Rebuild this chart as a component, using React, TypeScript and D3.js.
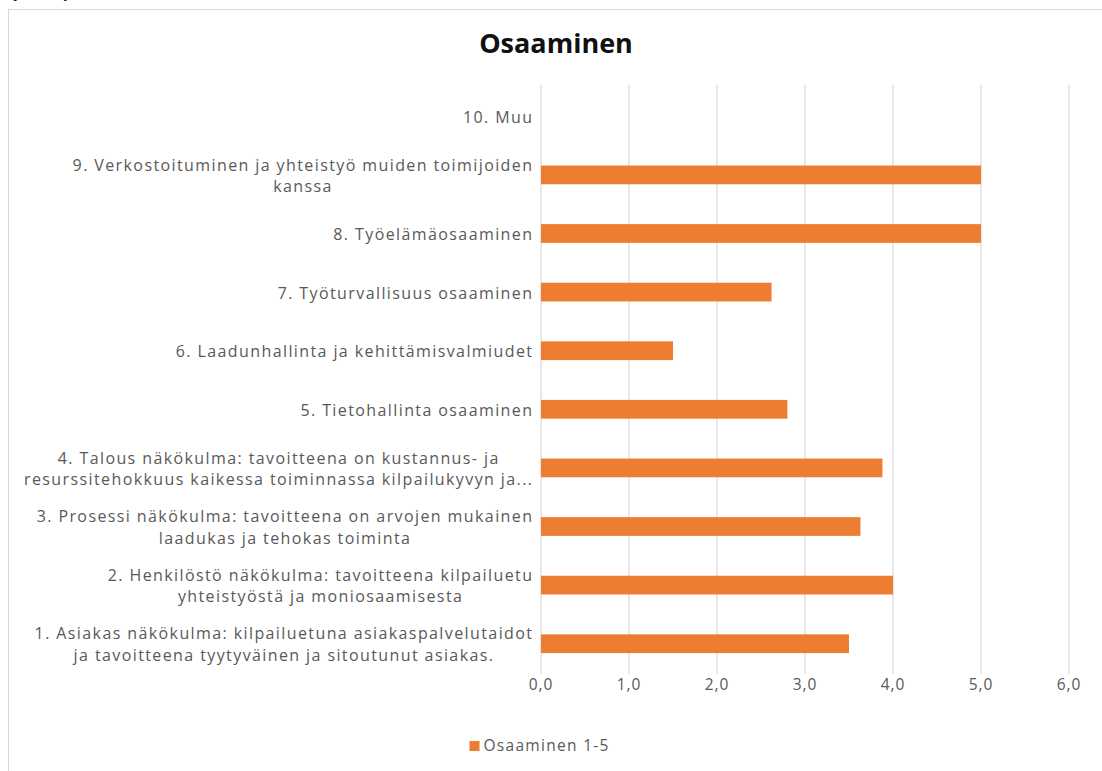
import React from "react";
import * as d3 from "d3";

const categories: string[] = [
  "1. Asiakas näkökulma: kilpailuetuna asiakaspalvelutaidot\nja tavoitteena tyytyväinen ja sitoutunut asiakas.",
  "2. Henkilöstö näkökulma: tavoitteena kilpailuetu\nyhteistyöstä ja moniosaamisesta",
  "3. Prosessi näkökulma: tavoitteena on arvojen mukainen\nlaadukas ja tehokas toiminta",
  "4. Talous näkökulma: tavoitteena on kustannus- ja\nresurssitehokkuus kaikessa toiminnassa kilpailukyvyn ja...",
  "5. Tietohallinta osaaminen",
  "6. Laadunhallinta ja kehittämisvalmiudet",
  "7. Työturvallisuus osaaminen",
  "8. Työelämäosaaminen",
  "9. Verkostoituminen ja yhteistyö muiden toimijoiden\nkanssa",
  "10. Muu",
];
const values: number[] = [3.5, 4.0, 3.63, 3.88, 2.8, 1.5, 2.62, 5.0, 5.0, 0];
const xTicks: number[] = [0, 1, 2, 3, 4, 5, 6];
const seriesName = "Osaaminen 1-5";
const title = "Osaaminen";

const W = 1102;
const H = 771;
const FONT = '"Open Sans", sans-serif';
const LABEL_SIZE = 16;
const LS = 1.4;
const TEXT = "#595959";

let ctx: CanvasRenderingContext2D | null = null;
function measure(t: string, size: number, ls: number): number {
  if (!ctx) {
    const c = document.createElement("canvas");
    ctx = c.getContext("2d");
  }
  if (!ctx) return t.length * (size * 0.55 + ls);
  ctx.font = `${size}px "Open Sans"`;
  return ctx.measureText(t).width + ls * (t.length - 1);
}

export default function App() {
  const x = d3.scaleLinear().domain([0, 6]).range([541, 1069]);
  const y = d3
    .scaleBand<number>()
    .domain(d3.range(categories.length).reverse())
    .range([87, 673])
    .paddingInner(0.68)
    .paddingOuter(0.34);
  const band = d3
    .scaleBand<number>()
    .domain(d3.range(categories.length).reverse())
    .range([87, 673]);
  const labelRight = 532;
  const lineH = 21.5;
  const legW = 14 + measure(seriesName, 15.5, 1.3);
  const legX = 539 - legW / 2;

  return (
    <svg
      width={W}
      height={H}
      style={{ position: "absolute", left: 0, top: 0, background: "#fff" }}
      fontFamily={FONT}
    >
      <text x={10} y={-3} fontSize={16} fontStyle="italic" fill="#222">
        työntekijän osaamiskartoitus
      </text>
      <rect x={8.5} y={9.5} width={W} height={H} fill="#fff" stroke="#d9d9d9" />
      <text x={556} y={53} textAnchor="middle" fontSize={27} fontWeight="bold" fill="#111">
        {title}
      </text>
      {xTicks.map((t) => (
        <line key={"g" + t} x1={x(t)} x2={x(t)} y1={85} y2={674} stroke="#d9d9d9" strokeWidth={1.2} />
      ))}
      {values.map((v, i) => (
        <rect
          key={"b" + i}
          x={x(0)}
          y={y(i)!}
          width={x(v) - x(0)}
          height={y.bandwidth()}
          fill="#ED7D31"
        />
      ))}
      {categories.map((c, i) => {
        const lines = c.split("\n");
        const w = Math.max(...lines.map((l) => measure(l, LABEL_SIZE, LS)));
        const cx = labelRight - w / 2;
        const cy = band(i)! + band.bandwidth() / 2;
        const y0 = cy - ((lines.length - 1) * lineH) / 2 + 6.5;
        return (
          <text
            key={"l" + i}
            fontSize={LABEL_SIZE}
            fill={TEXT}
            textAnchor="middle"
            letterSpacing={LS}
          >
            {lines.map((l, k) => (
              <tspan key={k} x={cx + LS / 2} y={y0 + k * lineH}>
                {l}
              </tspan>
            ))}
          </text>
        );
      })}
      {xTicks.map((t) => (
        <text
          key={"t" + t}
          x={x(t)}
          y={690}
          textAnchor="middle"
          fontSize={15.5}
          letterSpacing={1}
          fill={TEXT}
        >
          {d3.format(".1f")(t).replace(".", ",")}
        </text>
      ))}
      <rect x={legX} y={741} width={10} height={10} fill="#ED7D31" />
      <text x={legX + 14} y={751} fontSize={15.5} letterSpacing={1.3} fill={TEXT}>
        {seriesName}
      </text>
    </svg>
  );
}
